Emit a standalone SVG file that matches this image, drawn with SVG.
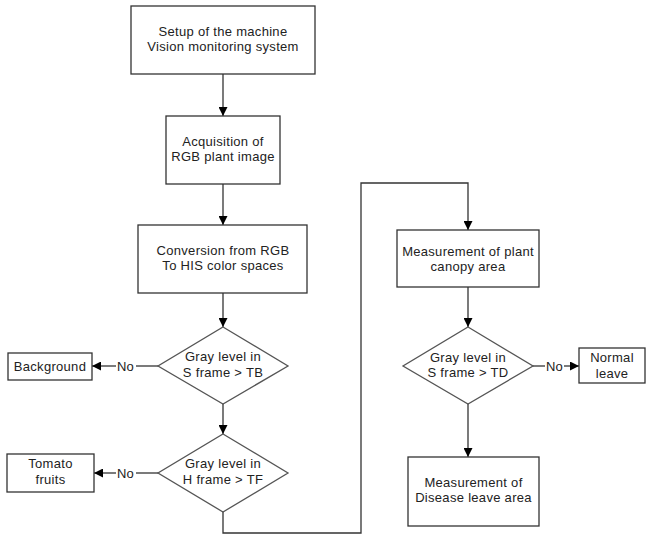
<svg xmlns="http://www.w3.org/2000/svg" width="646" height="535" viewBox="0 0 646 535">
<defs>
<marker id="ah" viewBox="0 0 10 10" refX="10" refY="5" markerWidth="9" markerHeight="9" markerUnits="userSpaceOnUse" orient="auto">
<path d="M0,0 L10,5 L0,10 z" fill="#000"/>
</marker>
<style>
.box{fill:#fff;stroke:#333;stroke-width:1.3}
.dia{fill:#fff;stroke:#555;stroke-width:1.3}
.ln{fill:none;stroke:#333;stroke-width:1.3}
.t{font-family:"Liberation Sans",Arial,sans-serif;font-size:13px;letter-spacing:0.3px;fill:#222;text-anchor:middle}
</style>
</defs>
<rect width="646" height="535" fill="#fff"/>
<g id="connectors">
<path class="ln" d="M223,74 V116" marker-end="url(#ah)"/>
<path class="ln" d="M223,184 V225" marker-end="url(#ah)"/>
<path class="ln" d="M223,293 V327" marker-end="url(#ah)"/>
<path class="ln" d="M223,404 V434" marker-end="url(#ah)"/>
<path class="ln" d="M158,366 H136"/>
<path class="ln" d="M116,366 H92" marker-end="url(#ah)"/>
<text class="t" x="125.5" y="370.5">No</text>
<path class="ln" d="M158,473 H136"/>
<path class="ln" d="M116,473 H94" marker-end="url(#ah)"/>
<text class="t" x="125.5" y="477.5">No</text>
<path class="ln" d="M223,512 V533 H361 V183 H468 V230" marker-end="url(#ah)"/>
<path class="ln" d="M468,287 V327" marker-end="url(#ah)"/>
<path class="ln" d="M468,404 V457" marker-end="url(#ah)"/>
<path class="ln" d="M533,366 H545"/>
<path class="ln" d="M564,366 H579" marker-end="url(#ah)"/>
<text class="t" x="554.5" y="370.5">No</text>
</g>
<g id="setup">
<rect class="box" x="131" y="6" width="184" height="68"/>
<text class="t" x="223" y="36">Setup of the machine</text>
<text class="t" x="223" y="51">Vision monitoring system</text>
</g>
<g id="acquisition">
<rect class="box" x="166" y="116" width="114" height="68"/>
<text class="t" x="223" y="146">Acquisition of</text>
<text class="t" x="223" y="161">RGB plant image</text>
</g>
<g id="conversion">
<rect class="box" x="138" y="225" width="169" height="68"/>
<text class="t" x="223" y="255">Conversion from RGB</text>
<text class="t" x="223" y="270">To HIS color spaces</text>
</g>
<g id="decision-tb">
<polygon class="dia" points="223,327 288,366 223,404 158,366"/>
<text class="t" x="223" y="361">Gray level in</text>
<text class="t" x="223" y="377">S frame &gt; TB</text>
</g>
<g id="background">
<rect class="box" x="8" y="353" width="84" height="27"/>
<text class="t" x="50" y="370.5">Background</text>
</g>
<g id="decision-tf">
<polygon class="dia" points="223,434 288,473 223,512 158,473"/>
<text class="t" x="223" y="468">Gray level in</text>
<text class="t" x="223" y="484">H frame &gt; TF</text>
</g>
<g id="tomato">
<rect class="box" x="7" y="454" width="87" height="38"/>
<text class="t" x="50.5" y="468">Tomato</text>
<text class="t" x="50.5" y="484">fruits</text>
</g>
<g id="canopy">
<rect class="box" x="397" y="230" width="142" height="57"/>
<text class="t" x="468" y="256">Measurement of plant</text>
<text class="t" x="468" y="271">canopy area</text>
</g>
<g id="decision-td">
<polygon class="dia" points="468,327 533,366 468,404 403,366"/>
<text class="t" x="468" y="362">Gray level in</text>
<text class="t" x="468" y="377">S frame &gt; TD</text>
</g>
<g id="normal">
<rect class="box" x="579" y="348" width="66" height="35"/>
<text class="t" x="612" y="362">Normal</text>
<text class="t" x="612" y="378">leave</text>
</g>
<g id="disease">
<rect class="box" x="408" y="457" width="131" height="69"/>
<text class="t" x="473.5" y="487">Measurement of</text>
<text class="t" x="473.5" y="502">Disease leave area</text>
</g>
</svg>
